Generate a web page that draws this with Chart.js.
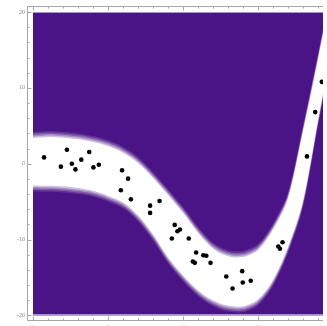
<!DOCTYPE html>
<html>
<head>
<meta charset="utf-8">
<script src="https://cdn.jsdelivr.net/npm/chart.js"></script>
<style>
  html, body { margin: 0; padding: 0; background: #fff; overflow: hidden; }
  canvas { display: block; }
</style>
</head>
<body>
<canvas id="myChart" width="327" height="326"></canvas>
<script>
// measured points
const xs = [0.74, 1.86, 2.26, 2.59, 2.83, 3.22, 3.75, 4.03, 4.39, 5.86, 5.94, 6.34, 6.53,
            7.81, 7.81, 8.44, 9.26, 9.45, 9.63, 9.80, 10.39, 10.66, 10.79, 10.88, 11.36,
            11.56, 11.84, 12.89, 13.31, 13.95, 13.99, 14.52, 16.36, 16.47, 16.64, 18.27,
            18.82, 19.26];
const ys = [0.83, -0.39, 1.84, 0.0, -0.75, 0.53, 1.54, -0.49, -0.13, -3.51, -0.88, -1.97, -4.70,
            -5.53, -6.49, -4.91, -9.87, -8.07, -8.91, -8.68, -9.87, -12.89, -13.07, -11.71, -12.07,
            -12.14, -13.07, -14.87, -16.45, -14.17, -15.66, -15.43, -10.92, -11.22, -10.36, 0.96,
            6.80, 10.79];

// edges of the white band, read at x = 0..20
const bandX     = [0, 1, 2, 3, 4, 5, 6, 7, 8, 9, 10, 11, 12, 13, 14, 15, 16, 17, 18, 19, 20];
const bandUpper = [3.68, 3.82, 3.72, 3.51, 3.16, 2.63, 1.75, 0.39, -1.58, -3.82, -6.18, -8.82,
                   -10.9, -11.9, -12.0, -11.1, -8.42, -4.34, 4.47, 13.95, 24];
const bandLower = [-3.16, -3.2, -3.29, -3.51, -3.86, -4.51, -5.39, -7.11, -9.61, -12.63, -15.0,
                   -16.97, -18.29, -19.0, -19.1, -18.2, -15.66, -11.32, -5.26, 5.39, 16];

const xTickValues = [0, 1, 2, 3, 4, 5, 6, 7, 8, 9, 10, 11, 12, 13, 14, 15, 16, 17, 18, 19];
const yTickValues = [-20, -18, -16, -14, -12, -10, -8, -6, -4, -2, 0, 2, 4, 6, 8, 10, 12, 14, 16, 18, 20];

const purple = '#4b1486';
const frameColor = '#a8a8a8';

// soft edge of the band: a few stacked fills
const rims = [
  { off: 0.5, alpha: 0.12 },
  { off: 0.3, alpha: 0.2 },
  { off: 0.1, alpha: 0.3 },
  { off: -0.1, alpha: 0.45 },
  { off: -0.3, alpha: 1 }
];

let datasets = [{
  data: xs.map((x, i) => ({ x: x, y: ys[i] })),
  showLine: false,
  pointRadius: 2.3,
  pointBackgroundColor: '#000',
  pointBorderWidth: 0,
  order: 0
}];
rims.forEach((r, k) => {
  const ord = rims.length - k;
  datasets.push({
    data: bandX.map((x, i) => ({ x: x, y: bandUpper[i] + r.off })),
    fill: '+1',
    backgroundColor: 'rgba(255,255,255,' + r.alpha + ')',
    borderColor: 'transparent',
    borderWidth: 0,
    pointRadius: 0,
    tension: 0.3,
    order: ord
  });
  datasets.push({
    data: bandX.map((x, i) => ({ x: x, y: bandLower[i] - r.off })),
    fill: false,
    borderColor: 'transparent',
    borderWidth: 0,
    pointRadius: 0,
    tension: 0.3,
    order: ord
  });
});

const framePlugin = {
  id: 'frame',
  beforeDatasetsDraw(chart) {
    const { ctx, chartArea, scales } = chart;
    const left = scales.x.getPixelForValue(0);
    const top = scales.y.getPixelForValue(20);
    const bottom = scales.y.getPixelForValue(-20);
    ctx.save();
    ctx.fillStyle = purple;
    ctx.fillRect(left, top, chartArea.right - left, bottom - top);
    ctx.strokeStyle = '#a493c9';
    ctx.lineWidth = 1;
    ctx.beginPath();
    ctx.moveTo(left, Math.round(top) + 0.5);
    ctx.lineTo(chartArea.right, Math.round(top) + 0.5);
    ctx.moveTo(left, Math.round(bottom) - 0.5);
    ctx.lineTo(chartArea.right, Math.round(bottom) - 0.5);
    ctx.stroke();
    ctx.restore();
  },
  afterDraw(chart) {
    const { ctx, chartArea, scales } = chart;
    const l = Math.round(chartArea.left) + 0.5;
    const t = Math.round(chartArea.top) + 0.5;
    const b = Math.round(chartArea.bottom) + 0.5;
    ctx.save();
    ctx.strokeStyle = frameColor;
    ctx.lineWidth = 1;
    ctx.beginPath();
    ctx.moveTo(chartArea.right, t);
    ctx.lineTo(l, t);
    ctx.lineTo(l, b);
    ctx.lineTo(chartArea.right, b);
    yTickValues.forEach(v => {
      const py = Math.round(scales.y.getPixelForValue(v)) + 0.5;
      const len = v % 10 === 0 ? 4 : 2;
      ctx.moveTo(l, py);
      ctx.lineTo(l + len, py);
    });
    xTickValues.forEach(v => {
      const px = Math.round(scales.x.getPixelForValue(v)) + 0.5;
      const len = v % 5 === 0 ? 4 : 2;
      ctx.moveTo(px, b);
      ctx.lineTo(px, b - len);
      ctx.moveTo(px, t);
      ctx.lineTo(px, t + len);
    });
    ctx.stroke();
    ctx.restore();
  }
};

const tickFont = { family: 'Liberation Serif', size: 6 };

new Chart(document.getElementById('myChart'), {
  type: 'line',
  data: { datasets: datasets },
  options: {
    responsive: false,
    animation: false,
    devicePixelRatio: 1,
    layout: { padding: { top: 6, right: 0, left: 0, bottom: 0 } },
    plugins: { legend: { display: false }, tooltip: { enabled: false } },
    scales: {
      x: {
        type: 'linear',
        min: -0.4,
        max: 19.34,
        grid: { display: false, drawTicks: false },
        border: { display: false },
        afterBuildTicks: s => { s.ticks = xTickValues.map(v => ({ value: v })); },
        afterFit: s => { s.height = 5; },
        ticks: {
          padding: 3, autoSkip: false, maxRotation: 0, font: tickFont, color: '#888',
          callback: v => (v % 5 === 0 ? String(v) : '')
        }
      },
      y: {
        min: -20.66,
        max: 20.79,
        grid: { display: false, drawTicks: false },
        border: { display: false },
        afterBuildTicks: s => { s.ticks = yTickValues.map(v => ({ value: v })); },
        afterFit: s => { s.width = 27; },
        ticks: {
          padding: 2, autoSkip: false, font: tickFont, color: '#888',
          callback: v => (v % 10 === 0 ? String(v) : '')
        }
      }
    }
  },
  plugins: [framePlugin]
});
</script>
</body>
</html>
